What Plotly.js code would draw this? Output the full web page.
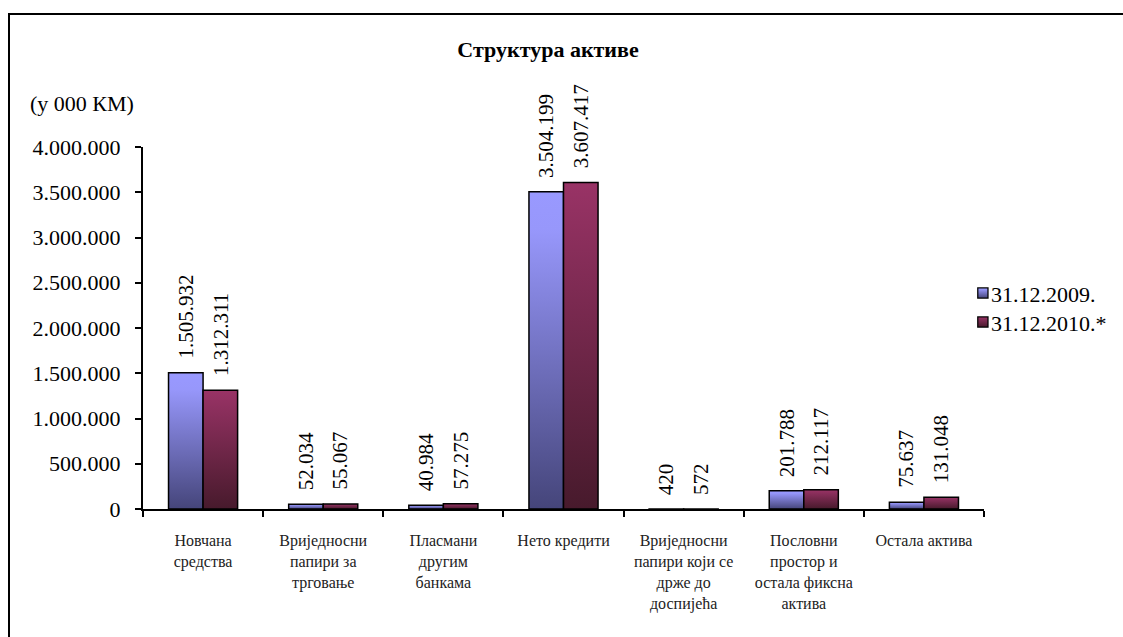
<!DOCTYPE html>
<html>
<head>
<meta charset="utf-8">
<script src="https://cdn.plot.ly/plotly-3.0.1.min.js"></script>
<style>
  html, body { margin: 0; padding: 0; background: #fff; }
  #chart { width: 1123px; height: 637px; }
</style>
</head>
<body>
<div id="chart"></div>
<script>
// Asset structure, thousands of KM
const categories = [
  'Новчана<br>средства',
  'Вриједносни<br>папири за<br>трговање',
  'Пласмани<br>другим<br>банкама',
  'Нето кредити',
  'Вриједносни<br>папири који се<br>држе до<br>доспијећа',
  'Пословни<br>простор и<br>остала фиксна<br>актива',
  'Остала актива'
];
const seriesNames = ['31.12.2009.', '31.12.2010.*'];
const values2009 = [1505932, 52034, 40984, 3504199, 420, 201788, 75637];
const values2010 = [1312311, 55067, 57275, 3607417, 572, 212117, 131048];
const yTickValues = [0, 500000, 1000000, 1500000, 2000000, 2500000, 3000000, 3500000, 4000000];

const FONT = '"Liberation Serif", "Times New Roman", serif';
const gradients = [
  { id: 'gradA', stops: [[0, '#9999ff'], [0.12, '#9797fb'], [1, '#45457a']], flat: '#7d7dd0' },
  { id: 'gradB', stops: [[0, '#993366'], [1, '#471a2c']], flat: '#73284c' }
];

// thousands separator "."
function fmt(v) {
  return String(v).replace(/\B(?=(\d{3})+(?!\d))/g, '.');
}

const seriesValues = [values2009, values2010];
const traces = seriesValues.map((vals, i) => ({
  type: 'bar',
  name: seriesNames[i],
  x: categories,
  y: vals,
  marker: { color: gradients[i].flat, line: { color: '#000', width: 1.5 } },
  hoverinfo: 'skip'
}));

// rotated value labels above each bar
const halfBar = 17.3;
const valueLabels = [];
seriesValues.forEach((vals, i) => {
  vals.forEach((v, j) => {
    valueLabels.push({
      x: categories[j], y: v, xref: 'x', yref: 'y',
      text: fmt(v), showarrow: false, textangle: -90,
      xanchor: 'center', yanchor: 'bottom',
      xshift: (i === 0 ? -halfBar : halfBar), yshift: 12,
      font: { family: FONT, size: 21, color: '#000' }
    });
  });
});

const layout = {
  width: 1123, height: 637,
  margin: { l: 143, r: 139, t: 147, b: 128, autoexpand: false },
  paper_bgcolor: '#fff', plot_bgcolor: '#fff',
  separators: ',.',
  showlegend: true,
  bargap: 0.425, bargroupgap: 0,
  title: {
    text: '<b>Структура активе</b>',
    font: { family: FONT, size: 22, color: '#000' },
    x: 0.488, xanchor: 'center', y: 0.922, yanchor: 'middle'
  },
  xaxis: {
    type: 'category',
    showline: true, linecolor: '#000', linewidth: 2,
    ticks: 'outside', tickson: 'boundaries', ticklen: 6, tickwidth: 2, tickcolor: '#000',
    showgrid: false, zeroline: false,
    tickfont: { family: FONT, size: 16, color: '#222' },
    ticklabelstandoff: 16
  },
  yaxis: {
    range: [0, 4000000],
    tickvals: yTickValues, ticktext: yTickValues.map(fmt),
    showline: true, linecolor: '#000', linewidth: 2,
    ticks: 'outside', ticklen: 6, tickwidth: 2, tickcolor: '#000',
    showgrid: false, zeroline: false,
    tickfont: { family: FONT, size: 22, color: '#000' },
    ticklabelstandoff: 10
  },
  legend: {
    x: 0.963, xanchor: 'left', y: 0.552, yanchor: 'middle',
    font: { family: FONT, size: 22, color: '#000' },
    bgcolor: 'rgba(0,0,0,0)', itemwidth: 30, tracegroupgap: 0
  },
  annotations: valueLabels.concat([{
    text: '(у 000 КМ)', xref: 'paper', yref: 'paper',
    x: -0.137, xanchor: 'left', y: 1.119, yanchor: 'middle',
    showarrow: false, font: { family: FONT, size: 22, color: '#000' }
  }]),
  shapes: [{
    type: 'rect', xref: 'paper', yref: 'paper',
    x0: (9 - 143) / 841, x1: 1.3, y0: -0.5, y1: (509 - 14) / 362,
    line: { color: '#000', width: 2 }, fillcolor: 'rgba(0,0,0,0)', layer: 'below'
  }]
};

Plotly.newPlot('chart', traces, layout, { staticPlot: true, displayModeBar: false }).then(gd => {
  // vertical light-to-dark gradient fills for the bars and legend swatches
  const svg = gd.querySelector('svg.main-svg');
  const NS = 'http://www.w3.org/2000/svg';
  let defs = svg.querySelector('defs');
  if (!defs) { defs = document.createElementNS(NS, 'defs'); svg.insertBefore(defs, svg.firstChild); }
  gradients.forEach(g => {
    const lg = document.createElementNS(NS, 'linearGradient');
    lg.setAttribute('id', g.id);
    lg.setAttribute('x1', '0'); lg.setAttribute('y1', '0');
    lg.setAttribute('x2', '0'); lg.setAttribute('y2', '1');
    g.stops.forEach(([o, c]) => {
      const s = document.createElementNS(NS, 'stop');
      s.setAttribute('offset', o);
      s.setAttribute('stop-color', c);
      lg.appendChild(s);
    });
    defs.appendChild(lg);
  });
  gd.querySelectorAll('.barlayer .trace').forEach((tr, i) => {
    tr.querySelectorAll('path').forEach(p => { p.style.fill = 'url(#' + gradients[i].id + ')'; });
  });
  // compact legend rows: swatch right next to the text, 29px row pitch
  let baseY = null;
  gd.querySelectorAll('.legend .traces').forEach((tr, i) => {
    tr.querySelectorAll('.legendpoints path').forEach(p => {
      p.style.fill = 'url(#' + gradients[i].id + ')';
      p.setAttribute('transform', 'translate(30,0) scale(0.85)');
    });
    const t = tr.querySelector('text.legendtext');
    if (t) t.setAttribute('x', '38');
    const m = /translate\(\s*([-\d.]+)[ ,]+([-\d.]+)\)/.exec(tr.getAttribute('transform') || '');
    if (m) {
      if (baseY === null) baseY = parseFloat(m[2]);
      tr.setAttribute('transform', 'translate(' + m[1] + ',' + (baseY + i * 29) + ')');
    }
  });
});
</script>
</body>
</html>
